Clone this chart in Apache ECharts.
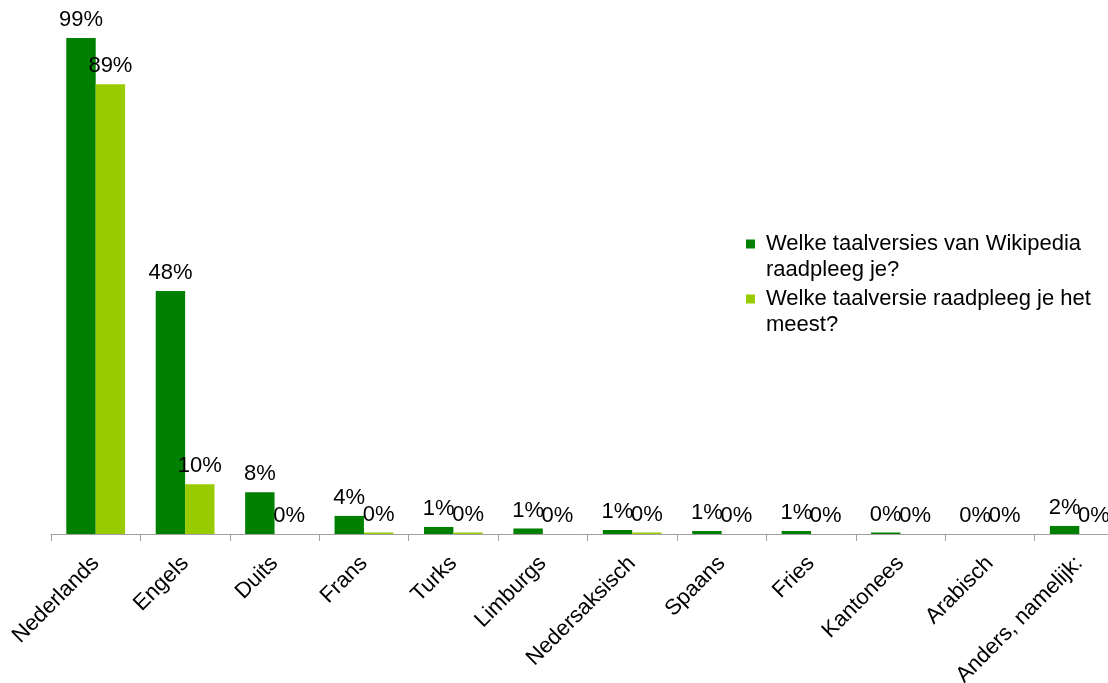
<!DOCTYPE html>
<html>
<head>
<meta charset="utf-8">
<script src="https://cdn.jsdelivr.net/npm/echarts@6/dist/echarts.min.js"></script>
<style>
  html, body { margin: 0; padding: 0; background: #fff; }
  #chart { width: 1108px; height: 683px; }
</style>
</head>
<body>
<div id="chart"></div>
<script>
var categories = ["Nederlands", "Engels", "Duits", "Frans", "Turks", "Limburgs",
    "Nedersaksisch", "Spaans", "Fries", "Kantonees", "Arabisch", "Anders, namelijk:"];
var seriesNames = ["Welke taalversies van Wikipedia raadpleeg je?",
    "Welke taalversie raadpleeg je het meest?"];
var allVersions = [98.6, 48.3, 8.3, 3.6, 1.4, 1.1, 0.8, 0.6, 0.6, 0.3, 0, 1.6];
var mostUsed = [89.4, 9.9, 0, 0.3, 0.3, 0, 0.3, 0, 0, 0, 0, 0];

var font = 'Arial, "Liberation Sans", sans-serif';
var chart = echarts.init(document.getElementById("chart"));

function barSeries(name, data, color) {
    return {
        type: "bar",
        name: name,
        data: data,
        barWidth: 29.4,
        barGap: "0%",
        itemStyle: { color: color },
        label: {
            show: true,
            position: "top",
            distance: 7,
            color: "#000",
            fontFamily: font,
            fontSize: 22,
            formatter: function (p) {
                return Math.round(p.value) + "%";
            }
        }
    };
}

chart.setOption({
    animation: false,
    grid: { left: 51, top: 31, width: 1073, height: 503, outerBoundsMode: "none", containLabel: false },
    legend: {
        orient: "vertical",
        left: 746,
        top: 231,
        padding: 0,
        itemGap: 3,
        itemWidth: 15,
        itemHeight: 35,
        icon: "path://M0,0h9v9h-9zM15,35",
        formatter: function (name) {
            return name === seriesNames[0]
                ? "Welke taalversies van Wikipedia\nraadpleeg je?"
                : "Welke taalversie raadpleeg je het\nmeest?";
        },
        textStyle: { color: "#000", fontFamily: font, fontSize: 22, lineHeight: 26 }
    },
    xAxis: {
        type: "category",
        data: categories,
        axisLine: { lineStyle: { color: "#a0a0a0", width: 1 } },
        axisTick: { show: true, length: 7, lineStyle: { color: "#a0a0a0" } },
        axisLabel: {
            rotate: 45,
            margin: 26,
            interval: 0,
            hideOverlap: false,
            color: "#000",
            fontFamily: font,
            fontSize: 22
        }
    },
    yAxis: {
        type: "value",
        min: 0,
        max: 100,
        show: false,
        splitLine: { show: false }
    },
    series: [
        barSeries(seriesNames[0], allVersions, "#008000"),
        barSeries(seriesNames[1], mostUsed, "#99cc00")
    ]
});
</script>
</body>
</html>
